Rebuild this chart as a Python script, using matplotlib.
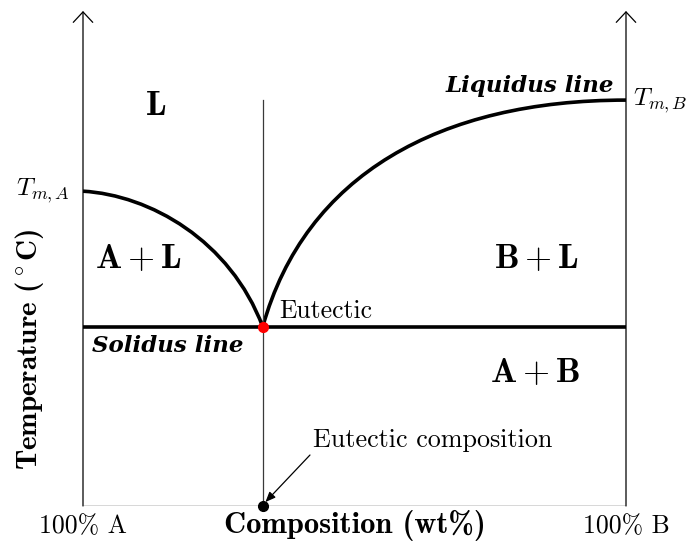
import matplotlib.pyplot as plt
from matplotlib.path import Path
from matplotlib.patches import PathPatch

plt.rcParams['mathtext.fontset'] = 'cm'

# melting points and eutectic (composition in wt% B, temperature in arbitrary units)
t_melt_a = 63.6
t_melt_b = 82.0
x_eut = 33.1
t_eut = 36.2

# bezier control points for the two liquidus branches
liq_left_ctrl = [(0, t_melt_a), (12.3, 62.8), (27.1, 53.7), (x_eut, t_eut)]
liq_right_ctrl = [(x_eut, t_eut), (40.9, 66.9), (65.7, 82.0), (100, t_melt_b)]

region_labels = [r'$\mathbf{L}$', r'$\mathbf{A}+\mathbf{L}$',
                 r'$\mathbf{B}+\mathbf{L}$', r'$\mathbf{A}+\mathbf{B}$']
region_pos = [(13.3, 81.0), (10.1, 50.1), (83.6, 50.1), (83.2, 27.1)]

axis_col = '#3a3a3a'
rm = 'cmr10'
bf = 'cmb10'

fig = plt.figure(figsize=(6.95, 5.47), dpi=100)
ax = fig.add_axes([83 / 695, 41 / 547, 543 / 695, 495 / 547])
ax.set_xlim(0, 100)
ax.set_ylim(0, 100)
ax.axis('off')

# frame: bottom line and two temperature axes with open arrow heads
ax.plot([0, 100], [0, 0], color=axis_col, lw=1.0, solid_capstyle='butt')
for xa in (0, 100):
    ax.annotate('', xy=(xa, 100), xytext=(xa, 0),
                arrowprops=dict(arrowstyle='->,head_length=0.75,head_width=0.7',
                                color='black', lw=0.9, shrinkA=0, shrinkB=0))

# eutectic composition line
ax.plot([x_eut, x_eut], [0, t_melt_b], color=axis_col, lw=0.9)

# liquidus curves
codes = [Path.MOVETO, Path.CURVE4, Path.CURVE4, Path.CURVE4]
for ctrl in (liq_left_ctrl, liq_right_ctrl):
    ax.add_patch(PathPatch(Path(ctrl, codes), fill=False, lw=2.6, edgecolor='black'))

# solidus
ax.plot([0, 100], [t_eut, t_eut], color='black', lw=2.6, solid_capstyle='butt')

ax.plot([x_eut], [t_eut], 'o', color='red', ms=7, zorder=5)
ax.plot([x_eut], [0], 'o', color='black', ms=7, zorder=5, clip_on=False)

for lab, (px, py) in zip(region_labels, region_pos):
    ax.text(px, py, lab, fontsize=25, ha='center', va='center')

ax.text(97.8, 84.8, 'Liquidus line', family='DejaVu Serif', weight='bold',
        style='italic', fontsize=16.5, ha='right', va='center')
ax.text(1.7, 32.3, 'Solidus line', family='DejaVu Serif', weight='bold',
        style='italic', fontsize=16.5, ha='left', va='center')
ax.text(36.1, 39.4, 'Eutectic', family=rm, fontsize=18.5, ha='left', va='center')
ax.text(42.4, 13.3, 'Eutectic composition', family=rm, fontsize=18.8,
        ha='left', va='center')
ax.annotate('', xy=(33.6, 0.8), xytext=(41.8, 10.3),
            arrowprops=dict(arrowstyle='-|>,head_length=0.6,head_width=0.25',
                            color='black', lw=0.9, shrinkA=0, shrinkB=0))

ax.text(-2.4, 63.8, r'$T_{m,A}$', fontsize=18.5, ha='right', va='center')
ax.text(101.3, 82.0, r'$T_{m,B}$', fontsize=18.5, ha='left', va='center')

ax.text(0, -4.0, '100% A', family=rm, fontsize=18.5, ha='center', va='center')
ax.text(100, -4.0, '100% B', family=rm, fontsize=18.5, ha='center', va='center')
ax.text(50, -4.0, 'Composition (wt%)', family=bf, fontsize=22,
        ha='center', va='center')
ax.text(-9.9, 31.7, r'Temperature ($^\circ$C)', family=bf, fontsize=21,
        rotation=90, ha='center', va='center')

fig.savefig('out.png', dpi=100)
